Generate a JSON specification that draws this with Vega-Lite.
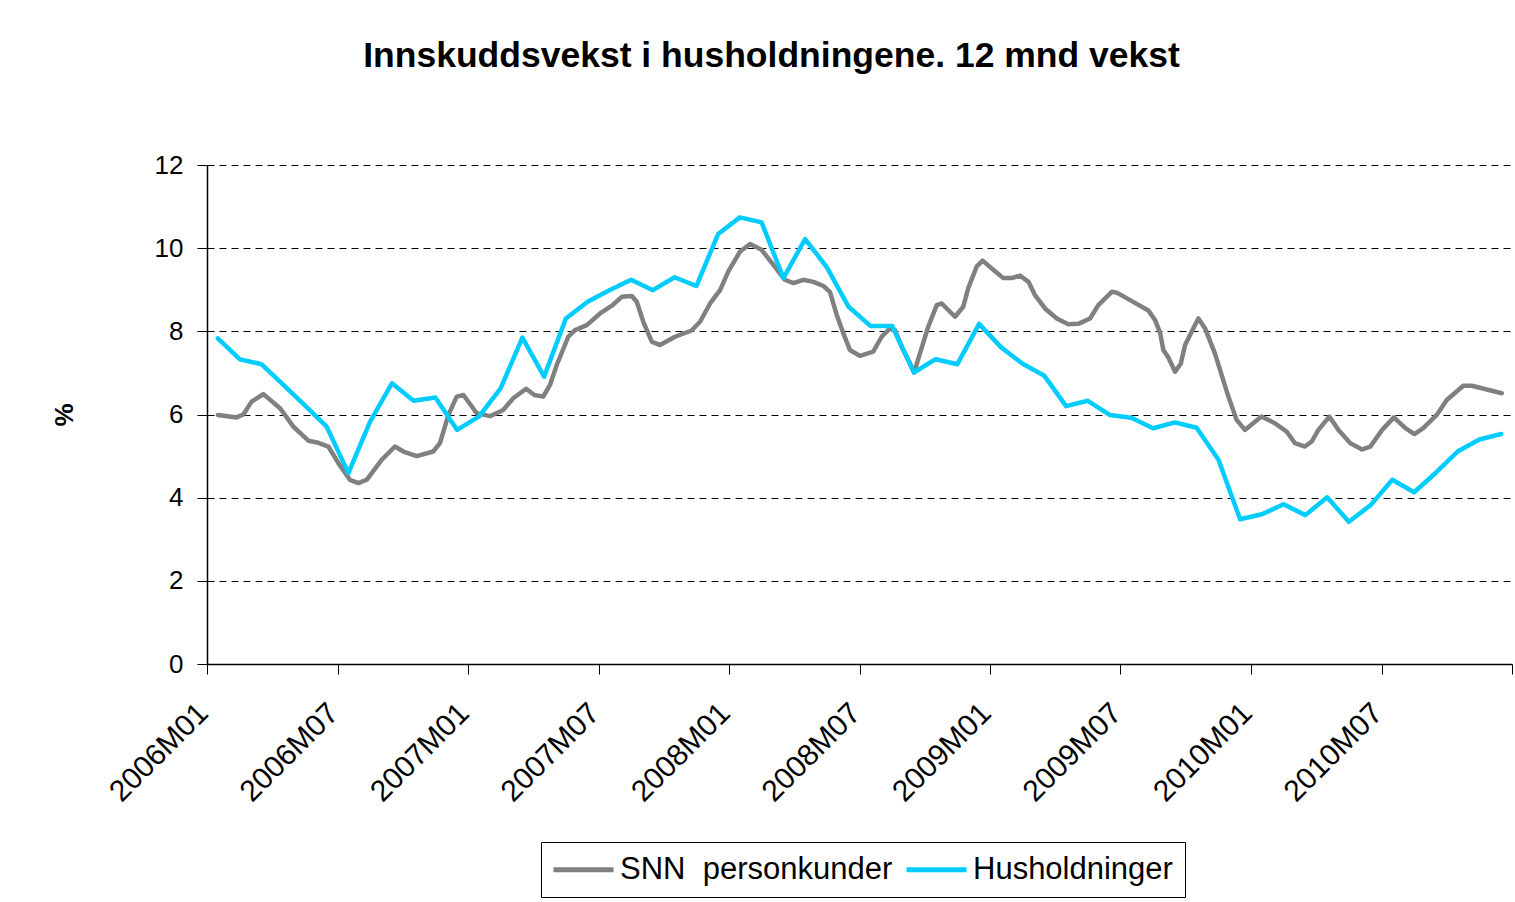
{
  "$schema": "https://vega.github.io/schema/vega-lite/v6.json",
  "width": 1305,
  "height": 499,
  "autosize": {"type": "none"},
  "padding": {"left": 207, "top": 165, "right": 3, "bottom": 238},
  "background": "white",
  "title": {
    "text": "Innskuddsvekst i husholdningene. 12 mnd vekst",
    "font": "Liberation Sans",
    "fontSize": 35.5,
    "fontWeight": "bold",
    "color": "#000",
    "anchor": "middle",
    "frame": "group",
    "dx": -88,
    "baseline": "alphabetic",
    "offset": 50
  },
  "datasets": {
    "snn": [
      {"t":0.5,"v":5.99},{"t":1.36,"v":5.93},{"t":1.67,"v":6.0},{"t":2.05,"v":6.31},{"t":2.59,"v":6.49},{"t":3.36,"v":6.15},{"t":3.97,"v":5.71},{"t":4.66,"v":5.37},{"t":5.12,"v":5.32},{"t":5.58,"v":5.23},{"t":6.04,"v":4.83},{"t":6.57,"v":4.43},{"t":6.96,"v":4.35},{"t":7.34,"v":4.43},{"t":8.03,"v":4.91},{"t":8.64,"v":5.23},{"t":9.03,"v":5.11},{"t":9.64,"v":5.0},{"t":10.4,"v":5.11},{"t":10.71,"v":5.31},{"t":11.1,"v":5.99},{"t":11.48,"v":6.43},{"t":11.79,"v":6.47},{"t":12.4,"v":6.03},{"t":13.01,"v":5.96},{"t":13.62,"v":6.11},{"t":14.08,"v":6.39},{"t":14.67,"v":6.62},{"t":15.05,"v":6.47},{"t":15.46,"v":6.43},{"t":15.77,"v":6.71},{"t":16.08,"v":7.19},{"t":16.61,"v":7.87},{"t":16.92,"v":8.03},{"t":17.46,"v":8.15},{"t":18.07,"v":8.43},{"t":18.6,"v":8.61},{"t":19.07,"v":8.83},{"t":19.53,"v":8.85},{"t":19.76,"v":8.71},{"t":20.06,"v":8.23},{"t":20.45,"v":7.75},{"t":20.83,"v":7.67},{"t":21.52,"v":7.87},{"t":22.28,"v":8.02},{"t":22.67,"v":8.23},{"t":23.13,"v":8.67},{"t":23.59,"v":8.99},{"t":23.97,"v":9.44},{"t":24.51,"v":9.92},{"t":24.97,"v":10.1},{"t":25.5,"v":9.96},{"t":26.04,"v":9.6},{"t":26.57,"v":9.24},{"t":26.96,"v":9.16},{"t":27.42,"v":9.24},{"t":27.88,"v":9.19},{"t":28.34,"v":9.09},{"t":28.64,"v":8.95},{"t":28.95,"v":8.4},{"t":29.26,"v":7.95},{"t":29.56,"v":7.55},{"t":30.02,"v":7.41},{"t":30.63,"v":7.51},{"t":31.02,"v":7.87},{"t":31.4,"v":8.07},{"t":31.63,"v":8.03},{"t":31.94,"v":7.63},{"t":32.32,"v":7.23},{"t":32.51,"v":7.01},{"t":32.78,"v":7.47},{"t":33.16,"v":8.11},{"t":33.55,"v":8.63},{"t":33.78,"v":8.67},{"t":34.39,"v":8.35},{"t":34.77,"v":8.59},{"t":35.0,"v":9.04},{"t":35.39,"v":9.56},{"t":35.66,"v":9.7},{"t":36.15,"v":9.48},{"t":36.61,"v":9.28},{"t":37.0,"v":9.28},{"t":37.38,"v":9.34},{"t":37.77,"v":9.19},{"t":38.07,"v":8.87},{"t":38.53,"v":8.55},{"t":39.07,"v":8.31},{"t":39.6,"v":8.17},{"t":40.06,"v":8.18},{"t":40.6,"v":8.31},{"t":40.98,"v":8.63},{"t":41.6,"v":8.95},{"t":41.83,"v":8.93},{"t":42.44,"v":8.75},{"t":43.28,"v":8.5},{"t":43.59,"v":8.27},{"t":43.82,"v":7.97},{"t":43.97,"v":7.55},{"t":44.2,"v":7.37},{"t":44.51,"v":7.03},{"t":44.77,"v":7.22},{"t":44.97,"v":7.67},{"t":45.27,"v":7.99},{"t":45.58,"v":8.31},{"t":45.89,"v":8.07},{"t":46.34,"v":7.47},{"t":46.96,"v":6.43},{"t":47.34,"v":5.87},{"t":47.72,"v":5.63},{"t":48.48,"v":5.95},{"t":49.1,"v":5.79},{"t":49.64,"v":5.59},{"t":50.02,"v":5.31},{"t":50.48,"v":5.23},{"t":50.79,"v":5.35},{"t":51.1,"v":5.63},{"t":51.6,"v":5.95},{"t":52.02,"v":5.63},{"t":52.57,"v":5.31},{"t":53.11,"v":5.16},{"t":53.49,"v":5.23},{"t":54.03,"v":5.63},{"t":54.57,"v":5.93},{"t":55.1,"v":5.67},{"t":55.51,"v":5.53},{"t":55.92,"v":5.67},{"t":56.54,"v":5.99},{"t":57.0,"v":6.35},{"t":57.76,"v":6.69},{"t":58.15,"v":6.69},{"t":59.53,"v":6.51}
    ],
    "hus": [
      {"t":0.5,"v":7.83},{"t":1.5,"v":7.33},{"t":2.5,"v":7.21},{"t":3.5,"v":6.72},{"t":4.5,"v":6.22},{"t":5.5,"v":5.71},{"t":6.5,"v":4.59},{"t":7.5,"v":5.83},{"t":8.5,"v":6.75},{"t":9.5,"v":6.33},{"t":10.5,"v":6.41},{"t":11.5,"v":5.63},{"t":12.5,"v":5.95},{"t":13.5,"v":6.63},{"t":14.5,"v":7.85},{"t":15.5,"v":6.91},{"t":16.5,"v":8.31},{"t":17.5,"v":8.71},{"t":18.5,"v":8.99},{"t":19.5,"v":9.24},{"t":20.5,"v":8.99},{"t":21.5,"v":9.3},{"t":22.5,"v":9.09},{"t":23.5,"v":10.34},{"t":24.5,"v":10.74},{"t":25.5,"v":10.62},{"t":26.5,"v":9.28},{"t":27.5,"v":10.22},{"t":28.5,"v":9.54},{"t":29.5,"v":8.59},{"t":30.5,"v":8.13},{"t":31.5,"v":8.13},{"t":32.5,"v":7.01},{"t":33.5,"v":7.33},{"t":34.5,"v":7.21},{"t":35.5,"v":8.18},{"t":36.5,"v":7.62},{"t":37.5,"v":7.22},{"t":38.5,"v":6.93},{"t":39.5,"v":6.2},{"t":40.5,"v":6.33},{"t":41.5,"v":5.99},{"t":42.5,"v":5.92},{"t":43.5,"v":5.67},{"t":44.5,"v":5.81},{"t":45.5,"v":5.68},{"t":46.5,"v":4.92},{"t":47.5,"v":3.48},{"t":48.5,"v":3.6},{"t":49.5,"v":3.84},{"t":50.5,"v":3.58},{"t":51.5,"v":4.01},{"t":52.5,"v":3.42},{"t":53.5,"v":3.82},{"t":54.5,"v":4.43},{"t":55.5,"v":4.13},{"t":56.5,"v":4.6},{"t":57.5,"v":5.11},{"t":58.5,"v":5.4},{"t":59.5,"v":5.53}
    ]
  },
  "layer": [
    {
      "data": {"name": "snn"},
      "transform": [{"calculate": "'SNN\u00a0 personkunder'", "as": "series"}],
      "mark": {"type": "line", "strokeWidth": 4.5, "strokeJoin": "round", "strokeCap": "round"},
      "encoding": {
        "x": {"field": "t", "type": "quantitative"},
        "y": {"field": "v", "type": "quantitative"},
        "color": {"field": "series", "type": "nominal"}
      }
    },
    {
      "data": {"name": "hus"},
      "transform": [{"calculate": "'Husholdninger'", "as": "series"}],
      "mark": {"type": "line", "strokeWidth": 4.5, "strokeJoin": "round", "strokeCap": "round"},
      "encoding": {
        "x": {"field": "t", "type": "quantitative"},
        "y": {"field": "v", "type": "quantitative"},
        "color": {"field": "series", "type": "nominal"}
      }
    }
  ],
  "encoding": {
    "x": {
      "field": "t",
      "type": "quantitative",
      "scale": {"domain": [0, 60], "nice": false, "zero": false},
      "axis": {
        "title": null,
        "values": [0, 6, 12, 18, 24, 30, 36, 42, 48, 54, 60],
        "labelExpr": "datum.value >= 60 ? '' : (2006 + floor(datum.value / 12)) + 'M' + (datum.value % 12 == 0 ? '01' : '07')",
        "labelAngle": -45,
        "labelAlign": "right",
        "labelBaseline": "middle",
        "labelFont": "Liberation Sans",
        "labelFontSize": 30,
        "labelColor": "#000",
        "labelPadding": 34,
        "labelOffset": -4,
        "labelOverlap": false,
        "labelFlush": false,
        "labelBound": false,
        "grid": false,
        "tickSize": 10,
        "tickColor": "#000",
        "tickWidth": 1,
        "domainColor": "#000",
        "domainWidth": 1.5
      }
    },
    "y": {
      "field": "v",
      "type": "quantitative",
      "scale": {"domain": [0, 12], "nice": false, "zero": true},
      "axis": {
        "title": "%",
        "titleFont": "Liberation Sans",
        "titleFontSize": 26,
        "titleFontWeight": "bold",
        "titleColor": "#000",
        "titlePadding": 77,
        "values": [0, 2, 4, 6, 8, 10, 12],
        "labelFont": "Liberation Sans",
        "labelFontSize": 26,
        "labelColor": "#000",
        "labelPadding": 14,
        "grid": true,
        "gridColor": "#000",
        "gridDash": [7, 5],
        "gridWidth": 1,
        "tickSize": 10,
        "tickColor": "#000",
        "domainColor": "#000",
        "domainWidth": 1.5
      }
    },
    "color": {
      "field": "series",
      "type": "nominal",
      "scale": {"domain": ["SNN\u00a0 personkunder", "Husholdninger"], "range": ["#808080", "#00CCFF"]},
      "legend": {
        "title": null,
        "orient": "none",
        "legendX": 334,
        "legendY": 677,
        "direction": "horizontal",
        "symbolType": "M-1.5,0H4.5",
        "symbolSize": 400,
        "symbolStrokeWidth": 5,
        "labelFont": "Liberation Sans",
        "labelFontSize": 31,
        "labelColor": "#000",
        "labelLimit": 500,
        "labelOffset": 36,
        "columnPadding": 3,
        "padding": 12,
        "strokeColor": "#000",
        "fillColor": "#fff"
      }
    }
  },
  "config": {"view": {"stroke": null}}
}
